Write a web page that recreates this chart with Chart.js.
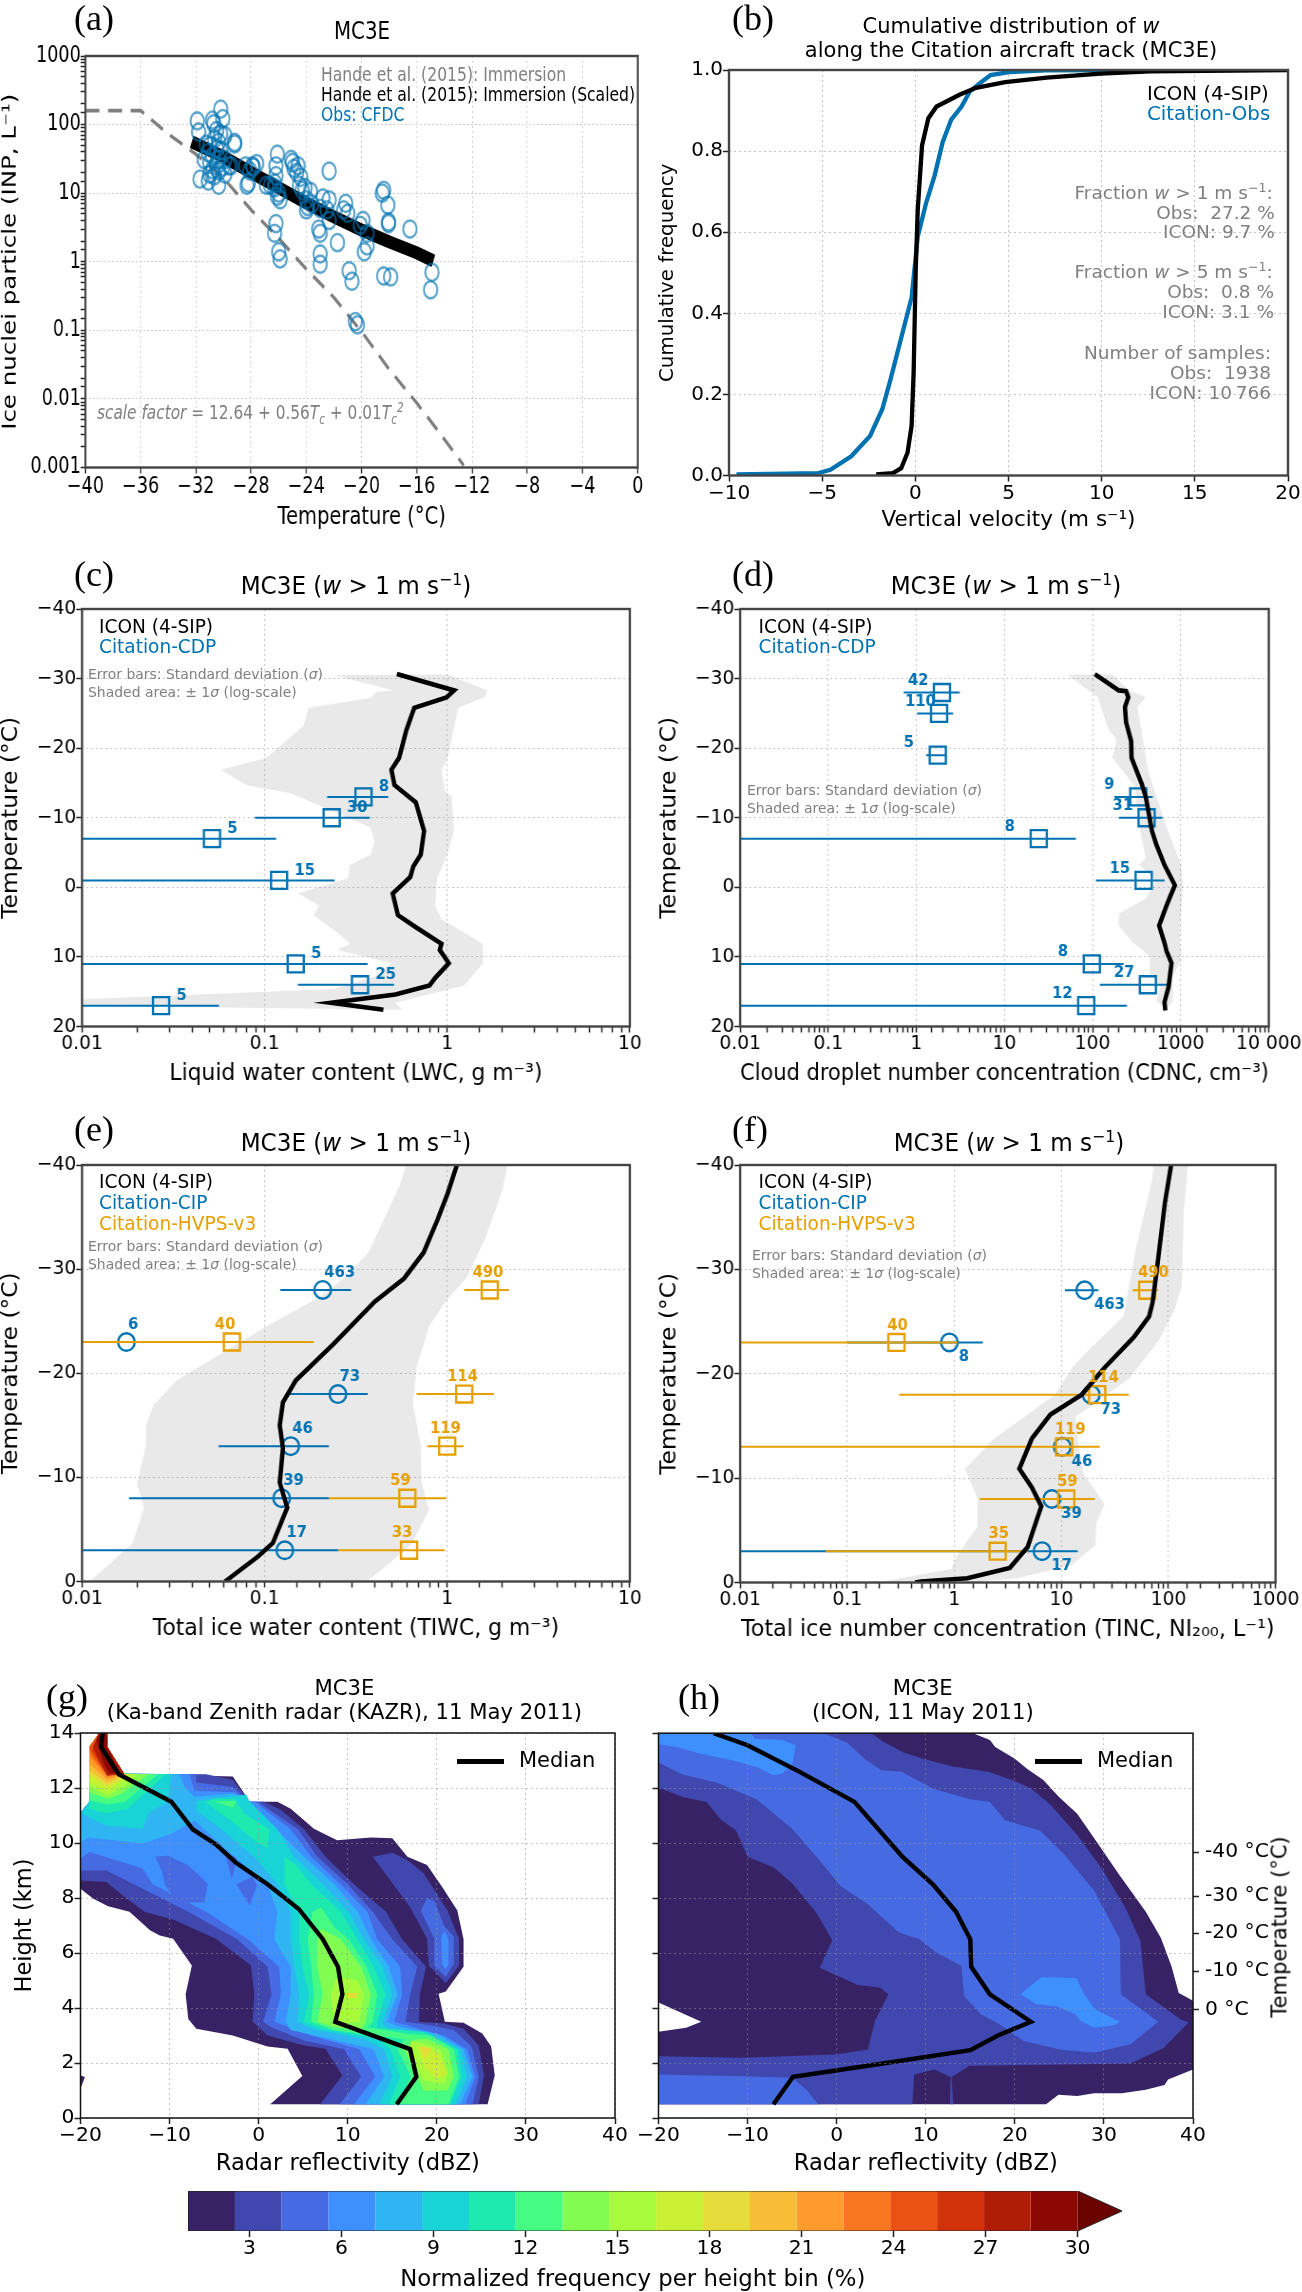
<!DOCTYPE html>
<html>
<head>
<meta charset="utf-8">
<script src="https://cdn.jsdelivr.net/npm/chart.js"></script>
<style>
html, body { margin: 0; background: #fff; }
#page { position: relative; width: 1302px; height: 2292px; overflow: hidden; font-family: "DejaVu Sans", sans-serif; color: #000; }
.squeeze { position: absolute; left: 0; top: 0; height: 1700px; transform-origin: 0 0; }
.t { position: absolute; white-space: nowrap; line-height: 1.1; }
sup, sub { font-size: .68em; line-height: 0; }
</style>
</head>
<body>
<div id="page"></div>
<script>
// ---- data ----
const logTickLabels = ['0.001', '0.01', '0.1', '1', '10', '100', '1000', '10 000'];

// (a) ice nucleating particles
const cfdcTemp = [-31.9,-31.8,-30.2,-30.05,-30.8,-30.7,-30.5,-30.2,-30.65,-30.35,-29.9,-31.25,-31,-30.5,-30.2,-31.1,-30.8,-30.35,-29.9,-31,-30.5,-30.05,-29.6,-31.4,-30.8,-30.35,-31,-29.9,-31.7,-31.1,-30.35,-30.65,-29.2,-29.2,-29.45,-28.4,-27.9,-28.1,-28.3,-28.2,-27.85,-26.9,-26.6,-26.3,-26.1,-26.2,-26.2,-26.3,-26,-25.9,-26.1,-25.1,-25,-24.6,-24.7,-24.5,-24.3,-24,-23.9,-23.7,-24,-22.8,-22.35,-22.35,-22.5,-22.35,-21.15,-21.3,-21,-19.9,-20.1,-19.6,-19.6,-19.8,-18.5,-18.4,-18.1,-18.05,-18.05,-16.5,-26.2,-26.3,-26,-25.9,-23.1,-23,-23,-23,-21.75,-20.9,-20.7,-18.4,-17.9,-14.9,-15,-20.45,-20.3,-24.9,-24.4,-24.1,-23.6,-23,-27.6];
const cfdcInp = [113,78,168,122,116,103,82,73,62,55,69,52,49,44,42,39,35,31,31,28,25,24,25,31,22,21,19,19,16,15,13,18,55,52,25,25,25,21,13,14,24,13,13,12,37,25,18,14,10,8,9,31,28,25,20,13,11,8,6.4,10.6,5.7,8.5,8,21,5.7,4,7.1,5.7,5.1,4,3.4,2.6,1.7,1.4,10,11,6.7,3.8,3.6,3,3.6,2.6,1.4,1.1,3,2.6,1.3,0.92,1.9,0.74,0.52,0.62,0.6,0.7,0.39,0.134,0.12,23,17,12,7,6,27];
const hande = [[-40,160],[-36,160],[-34,73],[-32,37],[-30,16.6],[-28,5.7],[-26,2.2],[-24,0.78],[-22,0.3],[-19.9,0.09],[-18,0.027],[-16,0.0087],[-14.5,0.0035],[-12.6,0.00107]];
const handeScaled = [[-32.3,56],[-30,34],[-28,20],[-26,12],[-24,7.2],[-22,4.5],[-20,2.9],[-18,1.95],[-16,1.35],[-14.8,1.03]];

// (b) cumulative distributions
const cdfObs = [[-9.6,0.0025],[-5.2,0.006],[-4.56,0.014],[-3.44,0.0475],[-2.43,0.0975],[-1.77,0.164],[-1.32,0.239],[-0.76,0.339],[-0.2,0.439],[0.13,0.589],[0.58,0.6725],[1.03,0.739],[1.47,0.8225],[1.92,0.877],[2.48,0.91],[2.93,0.9475],[3.48,0.968],[4.04,0.9875],[5.05,0.995],[7,0.999],[11.5,1]];
const cdfIcon = [[-2.1,0.0025],[-1.2,0.006],[-0.76,0.018],[-0.42,0.056],[-0.2,0.1225],[-0.09,0.256],[0.02,0.506],[0.13,0.656],[0.36,0.814],[0.7,0.881],[1.14,0.91],[2.37,0.939],[3.26,0.956],[4.82,0.97],[7.05,0.981],[9.95,0.991],[12.6,0.9967],[20,1]];

// (c) liquid water content
const lwcIcon = [[0.53,-30.65],[1.09,-28.3],[0.99,-27.3],[0.66,-25.8],[0.596,-22.5],[0.545,-18.6],[0.495,-16.9],[0.514,-14.7],[0.673,-12.2],[0.747,-8.1],[0.716,-4.7],[0.652,-3],[0.628,-1.5],[0.503,0.9],[0.537,4],[0.68,5.8],[0.93,8.1],[0.91,9],[1.02,10.9],[0.86,13],[0.8,14.1],[0.52,15.4],[0.231,16.6],[0.447,17.6]];
const lwcShade = [[0.238,-30.5],[0.51,-28.3],[0.41,-28.1],[0.38,-27.2],[0.174,-25.8],[0.163,-23.2],[0.102,-18.6],[0.0575,-16.9],[0.079,-14.7],[0.14,-13.5],[0.38,-8.6],[0.4,-6.6],[0.38,-4.7],[0.293,-3.2],[0.286,-1.3],[0.152,0.9],[0.2,2.6],[0.185,4],[0.25,6.5],[0.293,8.1],[0.25,9],[0.495,10.9],[0.4,12.8],[0.238,14.6],[0.01,16.1],[0.01,17],[0.565,17.6],[0.52,16.6],[1.24,14.1],[1.57,10.9],[1.57,8.1],[0.93,4.6],[0.86,2.6],[0.88,-1.3],[1,-4.7],[1.09,-8.1],[1.06,-13],[0.97,-13.9],[0.93,-16.9],[1,-18.3],[1.15,-25.8],[1.6,-27.3],[1.66,-28.3],[1.007,-30.6]];
const lwcTemp = [-13,-10,-7,-1,11,14,17];
const lwcObs = [0.348,0.233,0.0515,0.12,0.148,0.333,0.0271];
const lwcLo = [0.22,0.0885,0.001,0.001,0.001,0.152,0.001];
const lwcHi = [0.475,0.377,0.1156,0.2415,0.366,0.512,0.0562];
const lwcN = [8,30,5,15,5,25,5];

// (d) droplet number
const cdncIcon = [[106,-30.65],[198,-28.3],[240,-28.2],[254,-27.3],[233,-25.9],[240,-23.7],[274,-21],[277,-18.6],[360,-14.9],[401,-13],[472,-8.1],[527,-6.2],[655,-3.2],[859,-0.3],[692,2.6],[569,5.5],[655,8],[692,9.2],[787,10.9],[729,14.3],[655,16.5],[669,17.7]];
const cdncShade = [[50.8,-30.6],[115,-27.3],[151,-22.7],[187,-21.2],[168,-18.6],[306,-14.4],[323,-10],[401,-4.2],[339,-3.2],[525,-1],[401,1.6],[198,3.8],[198,5.5],[290,8],[447,9.9],[447,12.4],[588,14.3],[525,16.3],[617,17],[669,17.7],[813,16.3],[813,12.8],[1012,10.4],[977,6.5],[1067,-0.3],[1012,-3.2],[692,-8.6],[424,-16.9],[323,-25.9],[401,-27.3],[260,-28.3],[168,-30.6]];
const cdncTemp = [-28,-25,-19,-13,-10,-7,-1,11,14,17];
const cdncObs = [1.95,1.81,1.75,330,410,24.5,380,98,424,84.7];
const cdncLo = [0.718,1.02,1.29,177,198,0.001,109,0.001,121,0.001];
const cdncHi = [3.11,2.61,2.17,482,619,64.6,655,225,729,246];
const cdncN = [42,110,5,9,31,8,15,8,27,12];

// (e) ice water content
const tiwcIcon = [[1.13,-40],[1.007,-37.3],[0.883,-34.7],[0.743,-31.6],[0.58,-29.1],[0.402,-26.9],[0.238,-22.8],[0.148,-19.3],[0.126,-17.2],[0.121,-15],[0.126,-12.8],[0.121,-9.5],[0.133,-7.1],[0.111,-3.7],[0.092,-2.4],[0.0607,0]];
const tiwcShade = [[0.596,-40],[0.551,-38.1],[0.37,-31.6],[0.278,-29.3],[0.203,-27.4],[0.102,-24.5],[0.033,-19.3],[0.0248,-17],[0.0224,-15],[0.0224,-13.1],[0.02,-9.4],[0.0218,-7.1],[0.019,-3.7],[0.011,0],[0.361,0],[0.495,-1.9],[0.644,-3.7],[0.795,-6.9],[0.724,-9.5],[0.716,-13.1],[0.65,-17],[0.68,-20.6],[0.795,-24.5],[0.98,-26.9],[1.28,-29.2],[1.61,-32.9],[2,-37.5],[2.14,-40]];
const tiwcTemp = [-28,-23,-18,-13,-8,-3];
const tiwcCip = [0.208,0.0175,0.252,0.139,0.124,0.129];
const tiwcCipLo = [0.122,null,0.135,0.056,0.0181,0.001];
const tiwcCipHi = [0.298,null,0.367,0.225,0.225,0.254];
const tiwcCipN = [463,6,73,46,39,17];
const tiwcHvps = [1.71,0.0662,1.24,1,0.605,0.618];
const tiwcHvpsLo = [1.24,0.001,0.68,0.778,0.225,0.254];
const tiwcHvpsHi = [2.18,0.186,1.8,1.23,0.99,0.97];
const tiwcHvpsN = [490,40,114,119,59,33];

// (f) ice number
const tincIcon = [[106,-40],[93,-36.5],[78,-30],[71,-26.8],[66,-25.5],[47.5,-23.5],[25.4,-20.6],[15.5,-18],[7.9,-16.1],[5.3,-13.8],[4.05,-10.9],[5.3,-9.1],[6.5,-7.3],[5.5,-5.1],[4.84,-3.4],[3.3,-1.4],[1.32,-0.4],[0.49,-0.1],[0.43,0]];
const tincShade = [[72.5,-40],[71,-38.8],[49.7,-32],[38,-25.5],[19.4,-22.6],[13,-20.8],[8.7,-18],[2.37,-13.8],[1.26,-10.9],[1.65,-8],[1.65,-5.4],[1.05,-2.5],[0.94,-1.3],[0.315,-0.4],[0.2,0],[1.21,0],[3.87,-0.4],[12.4,-1.65],[20.8,-3.6],[21.2,-5.7],[25.4,-7.5],[16.2,-10.4],[14.8,-12.5],[13.5,-15.9],[17.7,-16.7],[43.5,-19.6],[81.5,-23.2],[114,-26.1],[133,-28.4],[139,-35.5],[152,-40]];
const tincTemp = [-28,-23,-18,-13,-8,-3];
const tincCip = [16.5,0.9,19,10.2,8.15,6.6];
const tincCipLo = [10.8,0.1,null,null,null,0.001];
const tincCipHi = [22.2,1.85,null,null,null,14.2];
const tincCipN = [463,8,73,46,39,17];
const tincHvps = [63.4,0.288,21.6,10.6,11.1,2.54];
const tincHvpsLo = [46.2,0.001,0.306,0.001,1.73,0.0628];
const tincHvpsHi = [80,1.08,42.7,22.8,20.5,4.84];
const tincHvpsN = [490,40,114,119,59,35];

// (g) KAZR contour outlines, one outline per frequency level
const gMedian = [[-17.5,14],[-17.7,13.5],[-15.7,12.5],[-9.8,11.5],[-7.4,10.5],[-4.8,9.95],[-2.5,9.27],[1,8.5],[4.5,7.6],[7.2,6.5],[8.9,5.5],[9.4,4.5],[8.6,3.5],[17,2.5],[17.7,1.5],[15.5,0.5]];
const tipHead = [[-17.9,14],[-17,14],[-17,13.5],[-15.1,12.52]];
const tipTail = [[-20,11.1],[-19,11.5],[-19,13.5]];
const gBand0 = [...tipHead,[-2.9,12.42],[-1,11.5],[2.1,11.5],[3.6,11.25],[6.2,10.52],[8.8,10.1],[12.6,10.2],[15,10.17],[16.7,9.5],[18.9,9.2],[20.6,8.4],[22.3,7.55],[23,6.5],[23,5.5],[21,4.6],[20.2,4.52],[20.9,3.5],[23,3.46],[25.1,3.07],[26.1,2.6],[26.5,1.55],[25.7,0.5],[1.3,0.5],[4.9,1.53],[3.25,2.52],[1,2.6],[-2.9,3],[-7,3.25],[-7.9,3.6],[-8.2,4.5],[-7.5,5.55],[-9.6,6.52],[-11.1,6.64],[-12.2,6.83],[-14.5,7.5],[-16.9,7.7],[-18.6,7.98],[-20,8.34],...tipTail];
const gBand0b = [[-20,1.55],[-19.5,1.49],[-20,1.07]];
const gBand1 = [...tipHead,[-5.9,12.5],[-2.9,12.3],[-1,11.5],[0.6,11.5],[2.5,11.2],[5.1,10.5],[7.5,9.5],[10.7,8.5],[14.3,7.5],[16.1,6.5],[18.8,5.5],[18.1,4.5],[18,3.5],[20.8,3.44],[23,3.25],[24.7,2.64],[25.3,1.55],[24.7,0.5],[6.9,0.5],[9.4,1.55],[7.5,2.52],[5.1,2.64],[1,3],[-0.67,3.5],[-0.5,4.5],[-0.86,5.55],[-4.8,6.52],[-9.4,7.19],[-12.8,7.5],[-14.5,7.9],[-17.1,8.58],[-20,8.64],...tipTail];
const gIsland1 = [[12.8,9.5],[15,9.65],[16.7,9.37],[18.5,8.9],[21.2,7.55],[22.1,6.82],[22.5,6.52],[22.5,5.55],[21,4.9],[19.1,5.55],[18.9,6.52],[17,7.67],[15.6,8.28]];
const gBand2 = [...tipHead,[-7,12.5],[-7,12.2],[-2.9,12.04],[-1,11.5],[-0.1,11.5],[4.4,10.5],[6.6,9.5],[10,8.5],[12.8,7.5],[15,6.5],[17.8,5.5],[17,4.5],[16.5,3.5],[19.3,3.37],[21.9,3.2],[23.8,2.64],[24,2.5],[24.7,1.5],[24,0.5],[9.1,0.5],[11.5,1.5],[9.6,2.5],[5.1,2.82],[1.4,3.3],[0.5,3.5],[1.45,4.5],[1,5.5],[-2.4,6.5],[-7.9,7.5],[-14,8.5],[-17.1,9],[-20,9],...tipTail];
const gIsland2 = [[18.9,8],[18.2,7.55],[19.7,6.52],[19.7,5.55],[21,5.13],[21.9,5.6],[21.9,6.6],[20.8,7],[19.7,7.9]];
const gBand3 = [...tipHead,[-7.8,12.5],[-7.2,11.9],[-2.7,11.85],[-1,11.5],[-0.5,11.5],[3.6,10.5],[5.9,9.5],[9.2,8.5],[12.2,7.5],[13.3,6.5],[15.9,5.5],[16.1,4.5],[15.2,3.5],[17.4,3.3],[20.8,3],[23.4,2.5],[24.3,1.5],[23.2,0.5],[10.7,0.5],[13.1,1.5],[11.3,2.5],[5.9,3],[1.75,3.5],[2.5,4.5],[2.3,5.5],[-1.2,6.5],[-5.9,7.5],[-11.9,8.5],[-13,9.07],[-19,9.67],[-20,9.43],...tipTail];
const gIsland3 = [[20.9,6.8],[21.3,6.5],[21.3,5.6],[21,5.4],[20.6,5.6],[20.5,6.6]];
const gHole2a = [[-11.6,9.51],[-10.2,9.54],[-7.9,9.19],[-5.7,8.52],[-6.1,7.85],[-9.1,7.82],[-10.5,8.46],[-10.9,9]];
const gHole2b = [[-3.8,9.61],[-2.4,9.49],[-3,8.7]];
const gHole2c = [[-2.5,8.5],[-0.7,8.76],[-0.2,8.46],[-1,7.73]];
const gHole2d = [[-5.4,10.5],[-4.9,10.5],[-5,10.34]];
const gBand4 = [...tipHead,[-8.9,12.5],[-8.3,12.04],[-7.2,11.67],[-2.9,11.8],[-1,11.5],[2.1,10.46],[5.1,9.5],[8.5,8.5],[11.1,7.5],[12.6,6.5],[14.6,5.5],[15.6,4.5],[14.4,3.5],[15.6,3.33],[20,3.06],[23,2.5],[24,1.5],[22.6,0.5],[12,0.5],[14.1,1.5],[12.9,2.5],[8.8,2.82],[3.6,3.2],[3.05,3.5],[3.6,4.5],[3.6,5.5],[1.75,6.5],[2.1,7.5],[1,8.5],[-2.7,9.5],[-7.2,10.82],[-9.8,10.34],[-13,9.98],[-19.1,10.2],[-20,10.04],...tipTail];
const gBand5a = [...tipHead,[-9.8,12.5],[-10.2,11.5],[-12.4,11.07],[-13,10.52],[-17.1,10.64],[-19,10.92],[-19.9,11.1],[-19,11.5],[-19,13.5]];
const gBand5b = [[-1.4,11.76],[-1,11.5],[2.1,10.5],[4,9.5],[7.2,8.5],[10.1,7.5],[11.8,6.5],[13.9,5.5],[15,4.5],[13.9,3.5],[14.4,3.25],[18.9,3.13],[22.6,2.5],[23.4,1.5],[22.1,0.5],[13.5,0.5],[15,1.5],[14.1,2.5],[11.8,2.88],[5.9,3.25],[4.4,3.5],[4.55,4.5],[4,5.5],[3.6,6.5],[3.6,7.5],[2.1,8.5],[-0.5,9.5],[-4.2,10.5],[-7,11.19],[-7,11.53],[-5.3,11.6]];
const gBand6a = [...tipHead,[-10.4,12.5],[-12.2,11.97],[-14.7,11.25],[-17.1,11.07],[-19,11.25],[-19,13.5]];
const gBand6b = [[-6,11.5],[-4.9,11.62],[-2.7,11.6],[-1.6,11.07],[1.2,10.5],[1,9.8],[-0.5,10.1],[-2.7,10.7]];
const gBand6c = [[2.9,9.5],[4.2,9.2],[5.9,8.5],[9.2,7.5],[11.1,6.5],[12.9,5.5],[14.25,4.5],[13.3,3.5],[13.3,3.28],[18.5,3.13],[22.3,2.5],[22.8,1.5],[21.5,0.5],[14.6,0.5],[15.9,1.5],[14.8,2.5],[13.3,2.9],[7,3.25],[5.1,3.5],[5.67,4.5],[4.9,5.5],[4.55,6.5],[4.55,7.5],[2.9,8.5]];
const gBand7a = [...tipHead,[-11.3,12.5],[-15,11.5],[-16.9,11.4],[-19,11.55],[-19,13.5]];
const gBand7b = [[-5,11.53],[-2.5,11.53],[-2.9,11.28]];
const gBand7c = [[6.05,7.5],[7,7.66],[8.5,6.95],[10.1,6.5],[12.1,5.5],[13.3,4.5],[12.8,3.5],[12.2,3.3],[17,3.05],[19.3,3],[21.9,2.5],[22.5,1.5],[21.3,0.5],[15.6,0.5],[17.1,1.5],[15.6,2.5],[16.3,2.86],[8.5,3.19],[5.9,3.5],[6.2,4.5],[5.9,5.5],[5.5,6.5]];
const gBand8a = [...tipHead,[-12.4,12.5],[-13.2,12.28],[-15.4,11.8],[-16.9,11.6],[-19,11.85],[-19,13.5]];
const gBand8b = [[7,6.88],[9.2,6.5],[11.5,5.5],[12.6,4.5],[12,3.5],[11.5,3.19],[8.5,3.3],[6.6,3.5],[7.2,4.5],[6.6,5.5],[6.6,6.5]];
const gBand8c = [[16.3,2.5],[17.5,2.85],[18.9,2.88],[21.3,2.5],[21.9,1.5],[21.2,1],[18.5,1],[17.8,1.5]];
const gBand9a = [...tipHead,[-13.5,12.5],[-14.9,12.1],[-16.9,11.73],[-19,12.04],[-19,13.5]];
const gBand9b = [[9.6,5.1],[11.1,5],[11.8,4.5],[11.3,3.5],[8.5,3.4],[8.1,4.5],[8.6,5]];
const gBand9c = [[17.1,2.82],[18.5,2.7],[20.4,2.5],[21.3,1.6],[20.8,1.25],[18.5,1.37],[17.8,1.85],[17.1,2.4]];
const gBand10a = [...tipHead,[-14.3,12.5],[-16.9,11.9],[-19,12.2],[-19,13.5]];
const gBand10b = [[9.8,4.55],[11.1,4.55],[10.9,4.37],[10,4.37]];
const gBand10c = [[17.8,2.6],[20.2,2.35],[21.2,1.6],[20,1.43],[18.5,1.85]];
const gBand11a = [...tipHead,[-14.7,12.5],[-16.9,12.06],[-19,12.46],[-19,13.5]];
const gBand11b = [[18,2.6],[19.5,2.55],[18.7,2.2]];
const gBand12 = [...tipHead,[-15,12.5],[-17,12.18],[-19,12.64],[-19,13.5]];
const gBand13 = [...tipHead,[-15.2,12.5],[-17,12.3],[-19,12.88],[-19,13.5]];
const gBand14 = [...tipHead,[-15.4,12.5],[-17,12.4],[-18.9,13.13],[-19,13.5]];
const gBand15 = [...tipHead,[-15.5,12.52],[-17,12.46],[-18.8,13.25],[-19,13.5]];
const gBand16 = [...tipHead,[-15.6,12.52],[-17,12.48],[-18.7,13.37]];
const gBand17 = [...tipHead,[-15.4,12.52],[-17,12.45],[-17.6,12.8],[-18.6,13.5]];
const gBand18 = [[-17.9,14],[-17,14],[-17,13.5],[-15.6,12.55],[-16.8,12.55],[-17.4,12.9],[-18.2,13.73]];
const gLayers = [[0,gBand0],[0,gBand0b],[1,gBand1],[1,gIsland1],[2,gBand2],[2,gIsland2],[3,gBand3],[3,gIsland3],[2,gHole2a],[2,gHole2b],[2,gHole2c],[2,gHole2d],[4,gBand4],[5,gBand5a],[5,gBand5b],[6,gBand6a],[6,gBand6b],[6,gBand6c],[7,gBand7a],[7,gBand7b],[7,gBand7c],[8,gBand8a],[8,gBand8b],[8,gBand8c],[9,gBand9a],[9,gBand9b],[9,gBand9c],[10,gBand10a],[10,gBand10c],[11,gBand10b],[11,gBand11a],[11,gBand11b],[12,gBand12],[13,gBand13],[14,gBand14],[15,gBand15],[16,gBand16],[17,gBand17],[18,gBand18]];

// (h) ICON contour outlines
const hMedian = [[-13.8,14],[-10,13.56],[-4.2,12.6],[2,11.5],[7.4,9.5],[10.8,8.5],[13.4,7.5],[15,6.5],[15.1,5.5],[17.2,4.5],[21.8,3.5],[18.1,3],[15,2.47],[3.5,1.9],[-4.9,1.5],[-7.1,0.5]];
const hBand0 = [[15.3,14],[17.2,13.75],[17.8,13.5],[20,13.07],[21.4,12.7],[23.2,12.3],[24.9,11.7],[27,11.07],[29.3,10],[31.6,8.9],[34.7,7.5],[36.4,6.55],[37.6,5.5],[38.4,4.55],[39.8,4.3],[40,4.26],[40,1.76],[37.2,1.4],[36.8,1.2],[34.7,1.03],[32,0.9],[28.9,0.9],[27,0.8],[24.9,0.85],[23.5,0.5],[-20,0.5],[-20,3.14],[-16.9,3.28],[-15.2,3.5],[-20,4.2],[-20,14]];
const hBand1 = [[3.9,14],[5.2,13.7],[7.5,13.3],[9.7,13.07],[12.9,12.8],[17,12.6],[19.7,12.3],[21.8,12],[24,11.4],[27,10.3],[29.7,9.1],[32.4,7.66],[34.1,6.45],[34.7,4.5],[38.6,3.59],[39.5,3.47],[36.7,2.55],[33,1.98],[25.9,1.95],[14.9,1.9],[12.9,1.48],[13.1,0.5],[12.7,0.5],[12.8,1.48],[11,1.76],[8.7,1.58],[8.5,0.5],[-20,0.5],[-20,2.25],[-10.7,2.19],[0,2.31],[3.5,2.49],[4.3,3.53],[5.8,4.5],[4.9,4.74],[2.35,4.84],[-1.9,5.47],[-0.5,6.47],[-2.3,7.48],[-5,8.54],[-7.1,9.12],[-10,9.5],[-11.3,10.46],[-13,10.85],[-14.6,11.5],[-17.3,11.68],[-20,12.02],[-20,14]];
const hBand2a = [[-1.5,14],[1.2,13.65],[3.1,13.07],[5,12.65],[7.3,12.6],[10.8,11.98],[15,11.6],[17.2,11.5],[18.9,10.83],[22.8,10.46],[25.5,9.6],[28.9,8.27],[31.8,6.5],[31.9,4.5],[36.1,3.5],[33,2.68],[28.9,2.37],[25.1,2.49],[21,2.8],[18.3,3.4],[16.2,3.77],[14.3,4.44],[14,5.53],[11.2,6.02],[9.3,6.5],[7,6.75],[3.5,7.78],[0.4,8.45],[-1.9,9.37],[-5,10.52],[-9,11.6],[-13.4,12.2],[-17.3,12.5],[-20,12.93],[-20,14]];
const hBand2b = [[-20,1.58],[-10.7,1.52],[-5,1.46],[-3.4,1.03],[-2.1,0.5],[-20,0.5]];
const hBand3a = [[-20,14],[-9.6,14],[-9.2,13.8],[-6.1,13.75],[-4.6,13.56],[-5,12.83],[-6.1,12.53],[-7.1,12.47],[-8.8,12.75],[-11.5,13],[-15.4,13.26],[-18,13.5],[-20,13.6]];
const hBand3b = [[20.65,4.5],[23,5.13],[26.9,5.08],[27.8,4.5],[29,3.95],[31.8,3.5],[31.2,3.38],[28.9,3.28],[27.4,3.53],[26.8,3.77],[24.7,4.07],[22.4,4.14]];
const hLayers = [[0,hBand0],[1,hBand1],[2,hBand2a],[2,hBand2b],[3,hBand3a],[3,hBand3b]];
const tempHeights = [9.67,8.07,6.73,5.34,3.94];
const tempLabels = ['-40 °C','-30 °C','-20 °C','-10 °C','0 °C'];

// colour bar
const levelColors = ['#362264','#4048b0','#466ae2','#3e8fff','#2eb5f2','#18d4d6','#1ee9af','#46fb82','#82fc50','#a8fb3a','#c9f034','#e5db3a','#f8bd37','#fe9b2d','#f97620','#eb5113','#d2320a','#b01d06','#8b0902'];
const cbarEdges = [1,2.53,4.05,5.58,7.11,8.63,10.16,11.68,13.21,14.74,16.26,17.79,19.32,20.84,22.37,23.89,25.42,26.95,28.47,30];
const cbarTicks = [3,6,9,12,15,18,21,24,27,30];

// ---- styling helpers ----
const BLUE = '#0072B2', ORANGE = '#E69F00', GRAY = '#808080';
const GRID = 'rgba(150,150,150,0.55)';
Chart.defaults.font.family = '"DejaVu Sans"';
Chart.defaults.color = '#000';

const page = document.getElementById('page');
// the source panels have been squeezed sideways by different amounts
const SA = 0.78, SB = 1, SC = 0.95;
function squeezeHost(sx) {
    const d = document.createElement('div');
    d.className = 'squeeze';
    d.style.width = (1302 / sx) + 'px';
    d.style.transform = 'scaleX(' + sx + ')';
    page.appendChild(d);
    return d;
}
const hostA = squeezeHost(SA), hostC = squeezeHost(SC);

const pts = arr => arr.map(p => ({x: p[0], y: p[1]}));
const minus = v => String(v).replace('-', '\u2212');
const isDecade = v => Math.abs(Math.log10(v) - Math.round(Math.log10(v))) < 1e-6;

function curve(arr, color, width, dash) {
    return {data: pts(arr), showLine: true, borderColor: color, borderWidth: width, borderDash: dash || [], pointRadius: 0, tension: 0, fill: false};
}
function shape(arr, color) {
    return {data: pts(arr), showLine: true, borderColor: 'transparent', borderWidth: 0, backgroundColor: color, pointRadius: 0, tension: 0, fill: 'shape'};
}
function errBars(temp, lo, hi, color) {
    const d = [];
    temp.forEach((t, i) => {
        if (lo[i] === null) return;
        d.push({x: lo[i], y: t}, {x: hi[i], y: t}, {x: NaN, y: NaN});
    });
    return {data: d, showLine: true, borderColor: color, borderWidth: 2, pointRadius: 0, tension: 0, spanGaps: false};
}
function markers(xs, ys, style, color, r, width) {
    return {data: xs.map((v, i) => ({x: v, y: ys[i]})), showLine: false, pointStyle: style, pointRadius: r,
        pointBorderColor: color, pointBorderWidth: width || 2.4, pointBackgroundColor: 'transparent'};
}

function axisBase(text, size, padTop) {
    return {
        title: {display: !!text, text: text, color: '#000', font: {size: size, lineHeight: 1}, padding: {top: padTop || 0, bottom: 0}},
        grid: {color: GRID, lineWidth: 1, tickColor: '#222', tickLength: 6, tickWidth: 1.5},
        border: {display: false, dash: [2, 3]}
    };
}
function logAxis(min, max, text, size, tickSize, padTop) {
    const a = axisBase(text, size, padTop);
    a.type = 'logarithmic';
    a.min = min;
    a.max = max;
    a.grid.color = c => (c.tick && isDecade(c.tick.value)) ? GRID : 'transparent';
    a.ticks = {autoSkip: false, maxRotation: 0, font: {size: tickSize}, padding: 0, color: '#000',
        callback: v => isDecade(v) ? logTickLabels[Math.round(Math.log10(v)) + 3] : ''};
    return a;
}
function linAxis(min, max, step, text, size, tickSize, padTop) {
    const a = axisBase(text, size, padTop);
    a.type = 'linear';
    a.min = min;
    a.max = max;
    a.ticks = {stepSize: step, autoSkip: false, maxRotation: 0, font: {size: tickSize}, padding: 0, color: '#000', callback: minus};
    return a;
}

function spine(color, width) {
    return {id: 'spine', afterDraw(chart) {
        const a = chart.chartArea, ctx = chart.ctx;
        ctx.save();
        ctx.strokeStyle = color;
        ctx.lineWidth = width;
        ctx.strokeRect(a.left, a.top, a.right - a.left, a.bottom - a.top);
        ctx.restore();
    }};
}
// small sample-count numbers beside the aircraft markers
function counts(list) {
    return {id: 'counts', afterDatasetsDraw(chart) {
        const ctx = chart.ctx;
        ctx.save();
        ctx.font = 'bold 15.5px "DejaVu Sans"';
        ctx.textAlign = 'left';
        ctx.textBaseline = 'middle';
        list.forEach(s => {
            ctx.fillStyle = s.color;
            s.n.forEach((n, i) => {
                ctx.fillText(String(n), chart.scales.x.getPixelForValue(s.val[i]) + s.dx, chart.scales.y.getPixelForValue(s.temp[i]) + s.dy);
            });
        });
        ctx.restore();
    }};
}

// box holds the axes rectangle and the room around it, in page pixels
function addPanel(host, sx, box, o) {
    const pad = 18;
    const cv = document.createElement('canvas');
    cv.width = Math.round((box.cr - box.cl) / sx);
    cv.height = Math.round(pad + box.b - box.t + box.below);
    cv.style.cssText = 'position:absolute;left:' + (box.cl / sx) + 'px;top:' + (box.t - pad) + 'px';
    host.appendChild(cv);
    o.x.afterFit = s => { s.height = box.below; };
    if (o.y) o.y.afterFit = s => { s.width = (box.l - box.cl) / sx; };
    const scales = {x: o.x, y: o.y};
    if (o.y2) {
        o.y2.afterFit = s => { s.width = (box.cr - box.r) / sx; };
        scales.y2 = o.y2;
    }
    new Chart(cv, {
        type: 'scatter',
        data: {datasets: o.datasets},
        options: {
            responsive: false, animation: false, events: [],
            layout: {padding: {top: pad, left: 0, bottom: 0, right: o.y2 ? 0 : (box.cr - box.r) / sx}},
            plugins: {legend: {display: false}, tooltip: {enabled: false}},
            scales: scales
        },
        plugins: [spine(o.spine || '#444', o.spineWidth || 2.4)].concat(o.plugins || [])
    });
}

// text sits at page pixels; align is l, c or r
function addText(host, sx, x, y, html, size, color, align, extra) {
    const d = document.createElement('div');
    d.className = 't';
    d.innerHTML = html;
    const shift = align === 'c' ? '-50%' : align === 'r' ? '-100%' : '0';
    d.style.cssText = 'left:' + (x / sx) + 'px;top:' + y + 'px;font-size:' + size + 'px;color:' + (color || '#000') +
        ';transform:translate(' + shift + ',-50%);' + (extra || '');
    host.appendChild(d);
}
const textA = (x, y, html, size, color, align) => addText(hostA, SA, x, y, html, size, color, align);
const textB = (x, y, html, size, color, align) => addText(page, SB, x, y, html, size, color, align);
const textC = (x, y, html, size, color, align) => addText(hostC, SC, x, y, html, size, color, align);
const letter = (x, y, s) => addText(page, 1, x, y, s, 36, '#000', 'l', 'font-family:"Liberation Serif",serif');

function contourSets(median, layers) {
    const sets = [curve(median, '#000', 4.4)];
    layers.slice().reverse().forEach(l => sets.push(shape(l[1], levelColors[l[0]])));
    return sets;
}

// ---- panel a ----
addPanel(hostA, SA, {cl: 0, cr: 650, l: 85.4, r: 638, t: 56, b: 467, below: 62.5}, {
    x: linAxis(-40, 0, 4, 'Temperature (°C)', 25, 22.5),
    y: logAxis(0.001, 1000, 'Ice nuclei particle (INP, L\u207B\u00B9)', 24.5, 22.5, 1),
    datasets: [
        markers(cfdcTemp, cfdcInp, 'circle', 'rgba(0,114,178,0.62)', 8.6, 2.6),
        curve(handeScaled, '#000', 13),
        curve(hande, GRAY, 3.6, [18, 11])
    ]
});
textA(362, 31, 'MC3E', 25.4, '#000', 'c');
textA(321, 73.5, 'Hande et al. (2015): Immersion', 20, GRAY);
textA(321, 94, 'Hande et al. (2015): Immersion (Scaled)', 20, '#000');
textA(321, 114, 'Obs: CFDC', 20, BLUE);
textA(97, 413, '<i>scale factor</i> = 12.64 + 0.56<i>T<sub>c</sub></i> + 0.01<i>T<sub>c</sub><sup>2</sup></i>', 19.7, GRAY);

// ---- panel b ----
const cdfY = linAxis(0, 1, 0.2, 'Cumulative frequency', 19.8, 20, 2.9);
cdfY.ticks.callback = v => v.toFixed(1);
addPanel(page, SB, {cl: 655, cr: 1302, l: 729, r: 1288, t: 70, b: 475, below: 55.5}, {
    x: linAxis(-10, 20, 5, 'Vertical velocity (m s\u207B\u00B9)', 21.5, 20),
    y: cdfY,
    datasets: [curve(cdfIcon, '#000', 4.3), curve(cdfObs, BLUE, 4.3)]
});
textB(1011, 27, 'Cumulative distribution of <i>w</i>', 21, '#000', 'c');
textB(1011, 50.5, 'along the Citation aircraft track (MC3E)', 21, '#000', 'c');
textB(1147, 94, 'ICON (4-SIP)', 19.8);
textB(1147, 114, 'Citation-Obs', 19.8, BLUE);
[[192.5, 'Fraction <i>w</i> &gt; 1 m s<sup>\u22121</sup>:', 1272.7], [213, 'Obs:&nbsp; 27.2 %', 1274.8], [232, 'ICON: 9.7 %', 1274.8],
 [272, 'Fraction <i>w</i> &gt; 5 m s<sup>\u22121</sup>:', 1272.7], [292, 'Obs:&nbsp; 0.8 %', 1274], [311.5, 'ICON: 3.1 %', 1274],
 [353, 'Number of samples:', 1271], [373, 'Obs:&nbsp; 1938', 1271], [392.5, 'ICON: 10\u2009766', 1271]].forEach(r => {
    textB(r[2], r[0], r[1], 18.5, GRAY, 'r');
});

// ---- panels c to f ----
const shadeFill = 'rgba(120,120,120,0.16)';
const areaCE = {cl: 0, cr: 650, l: 82, r: 630};
const areaDF = {cl: 655, cr: 1302, l: 740.6};
const obsMarks = (temp, val, style, color, r) => markers(val, temp, style, color, r);
const tempAxis = (max, padTop) => Object.assign(linAxis(-40, max, 10, 'Temperature (°C)', 23.4, 19.7, padTop), {reverse: true});

addPanel(hostC, SC, Object.assign({}, areaCE, {t: 609, b: 1026, below: 59.5}), {
    x: logAxis(0.01, 10, 'Liquid water content (LWC, g m\u207B\u00B3)', 23, 19.7),
    y: tempAxis(20, 0),
    datasets: [curve(lwcIcon, '#000', 4.6), obsMarks(lwcTemp, lwcObs, 'rect', BLUE, 12), errBars(lwcTemp, lwcLo, lwcHi, BLUE), shape(lwcShade, shadeFill)],
    plugins: [counts([{temp: lwcTemp, val: lwcObs, n: lwcN, color: BLUE, dx: 16.2, dy: -9.5}])]
});
addPanel(hostC, SC, Object.assign({}, areaDF, {r: 1270, t: 609, b: 1026, below: 59.5}), {
    x: logAxis(0.01, 10000, 'Cloud droplet number concentration (CDNC, cm\u207B\u00B3)', 23, 19.7),
    y: tempAxis(20, 3.8),
    datasets: [curve(cdncIcon, '#000', 4.6), obsMarks(cdncTemp, cdncObs, 'rect', BLUE, 12), errBars(cdncTemp, cdncLo, cdncHi, BLUE), shape(cdncShade, shadeFill)],
    plugins: [counts([{temp: cdncTemp, val: cdncObs, n: cdncN, color: BLUE, dx: -35.8, dy: -11.8}])]
});
addPanel(hostC, SC, Object.assign({}, areaCE, {t: 1165, b: 1581, below: 59.5}), {
    x: logAxis(0.01, 10, 'Total ice water content (TIWC, g m\u207B\u00B3)', 23, 19.7),
    y: tempAxis(0, 0),
    datasets: [curve(tiwcIcon, '#000', 4.6), obsMarks(tiwcTemp, tiwcHvps, 'rect', ORANGE, 12), errBars(tiwcTemp, tiwcHvpsLo, tiwcHvpsHi, ORANGE),
        obsMarks(tiwcTemp, tiwcCip, 'circle', BLUE, 8.8), errBars(tiwcTemp, tiwcCipLo, tiwcCipHi, BLUE), shape(tiwcShade, shadeFill)],
    plugins: [counts([{temp: tiwcTemp, val: tiwcCip, n: tiwcCipN, color: BLUE, dx: 1.7, dy: -17},
        {temp: tiwcTemp, val: tiwcHvps, n: tiwcHvpsN, color: ORANGE, dx: -18, dy: -17}])]
});
addPanel(hostC, SC, Object.assign({}, areaDF, {r: 1276, t: 1165, b: 1582, below: 59.5}), {
    x: logAxis(0.01, 1000, 'Total ice number concentration (TINC, NI\u2082\u2080\u2080, L\u207B\u00B9)', 23.4, 19.7),
    y: tempAxis(0, 3.8),
    datasets: [curve(tincIcon, '#000', 4.6), obsMarks(tincTemp, tincHvps, 'rect', ORANGE, 12), errBars(tincTemp, tincHvpsLo, tincHvpsHi, ORANGE),
        obsMarks(tincTemp, tincCip, 'circle', BLUE, 8.8), errBars(tincTemp, tincCipLo, tincCipHi, BLUE), shape(tincShade, shadeFill)],
    plugins: [counts([{temp: tincTemp, val: tincCip, n: tincCipN, color: BLUE, dx: 9.9, dy: 15},
        {temp: tincTemp, val: tincHvps, n: tincHvpsN, color: ORANGE, dx: -9.6, dy: -16.8}])]
});

const wTitle = 'MC3E (<i>w</i> &gt; 1 m s<sup>\u22121</sup>)';
textC(356, 586, wTitle, 24.3, '#000', 'c');
textC(1006, 586, wTitle, 24.3, '#000', 'c');
textC(356, 1143, wTitle, 24.3, '#000', 'c');
textC(1009, 1143, wTitle, 24.3, '#000', 'c');

textC(99, 626.5, 'ICON (4-SIP)', 19.5);
textC(99, 647, 'Citation-CDP', 19.5, BLUE);
textC(758.5, 626.5, 'ICON (4-SIP)', 19.5);
textC(758.5, 647, 'Citation-CDP', 19.5, BLUE);
textC(99, 1182, 'ICON (4-SIP)', 19.5);
textC(99, 1203, 'Citation-CIP', 19.5, BLUE);
textC(99, 1223.5, 'Citation-HVPS-v3', 19.5, ORANGE);
textC(758.5, 1182, 'ICON (4-SIP)', 19.5);
textC(758.5, 1203, 'Citation-CIP', 19.5, BLUE);
textC(758.5, 1223.5, 'Citation-HVPS-v3', 19.5, ORANGE);

const errNote = 'Error bars: Standard deviation (<i>\u03C3</i>)';
const shadeNote = 'Shaded area: \u00B1 1<i>\u03C3</i> (log-scale)';
[[88, 674, 692], [747, 790, 808], [88, 1246, 1264], [752, 1255, 1273]].forEach(r => {
    textC(r[0], r[1], errNote, 14.7, GRAY);
    textC(r[0], r[2], shadeNote, 14.7, GRAY);
});

// ---- panels g and h, not squeezed ----
function radarX() {
    const a = linAxis(-20, 40, 10, 'Radar reflectivity (dBZ)', 22.6, 20.3);
    a.grid.z = 1;
    return a;
}
function radarY(withLabels) {
    const a = linAxis(0, 14, 2, withLabels ? 'Height (km)' : '', 22.5, 20.3, 13.7);
    a.grid.z = 1;
    if (!withLabels) a.ticks.callback = () => '';
    return a;
}
addPanel(page, 1, {cl: 0, cr: 640, l: 80.5, r: 615, t: 1733, b: 2117.6, below: 57}, {
    x: radarX(), y: radarY(true), spine: '#111', spineWidth: 1.5,
    datasets: contourSets(gMedian, gLayers)
});
const y2Axis = linAxis(0, 14, 2, '', 22.5, 20.3);
y2Axis.position = 'right';
y2Axis.grid = {drawOnChartArea: false, tickColor: '#222', tickLength: 6, tickWidth: 1.5};
y2Axis.ticks.padding = 6;
y2Axis.afterBuildTicks = s => { s.ticks = tempHeights.map(v => ({value: v})); };
y2Axis.ticks.callback = (v, i) => tempLabels[i];
addPanel(page, 1, {cl: 630, cr: 1302, l: 658.5, r: 1193, t: 1733, b: 2117.6, below: 57}, {
    x: radarX(), y: radarY(false), y2: y2Axis, spine: '#111', spineWidth: 1.5,
    datasets: contourSets(hMedian, hLayers)
});
addText(page, 1, 344.4, 1687.7, 'MC3E', 21.2, '#000', 'c');
addText(page, 1, 344.4, 1711.5, '(Ka-band Zenith radar (KAZR), 11 May 2011)', 21.2, '#000', 'c');
addText(page, 1, 922.8, 1687.7, 'MC3E', 21.2, '#000', 'c');
addText(page, 1, 922.8, 1711.5, '(ICON, 11 May 2011)', 21.2, '#000', 'c');
addText(page, 1, 519, 1761, 'Median', 21);
addText(page, 1, 1097, 1761, 'Median', 21);
[457, 1035].forEach(x => {
    const d = document.createElement('div');
    d.style.cssText = 'position:absolute;left:' + x + 'px;top:1759px;width:47px;height:4.5px;background:#000';
    page.appendChild(d);
});
addText(page, 1, 1280, 1926.6, 'Temperature (°C)', 21, '#000', 'c', 'transform:translate(-50%,-50%) rotate(-90deg)');

// ---- colour bar ----
const cbarSets = [curve([[1,0],[30,0],[31.45,0.5],[30,1],[1,1],[1,0]], '#222', 1), shape([[30,0],[31.45,0.5],[30,1]], '#6b0301')];
levelColors.forEach((c, i) => {
    cbarSets.push(shape([[cbarEdges[i],0],[cbarEdges[i+1],0],[cbarEdges[i+1],1],[cbarEdges[i],1]], c));
});
const cbarX = linAxis(1, 31.45, 3, '', 22.8, 20.3);
cbarX.grid.drawOnChartArea = false;
cbarX.afterBuildTicks = s => { s.ticks = cbarTicks.map(v => ({value: v})); };
const cbarY = {type: 'linear', min: 0, max: 1, display: false};
addPanel(page, 1, {cl: 150, cr: 1160, l: 188, r: 1122.1, t: 2191, b: 2231, below: 60}, {
    x: cbarX, y: cbarY, datasets: cbarSets, spine: 'rgba(0,0,0,0)', spineWidth: 0.01
});
addText(page, 1, 632.8, 2279, 'Normalized frequency per height bin (%)', 22.8, '#000', 'c');

// panel letters
letter(74, 19, '(a)');
letter(732, 19, '(b)');
letter(74, 575, '(c)');
letter(732, 575, '(d)');
letter(74, 1129.6, '(e)');
letter(732, 1129.6, '(f)');
letter(46, 1698, '(g)');
letter(678, 1698, '(h)');
</script>
</body>
</html>
